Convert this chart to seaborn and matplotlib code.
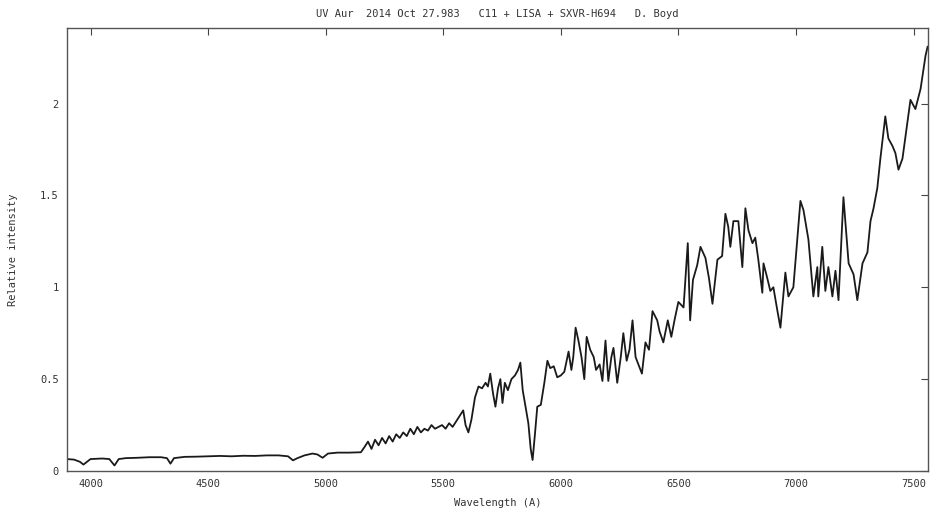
import matplotlib
matplotlib.use("Agg")
import matplotlib.pyplot as plt
import seaborn as sns
import pandas as pd

wavelength = [
    3900, 3930, 3955, 3970, 3985, 4000, 4050, 4080, 4102, 4120, 4150, 4200, 4250, 4300,
    4325, 4340, 4355, 4400, 4450, 4500, 4550, 4600, 4650, 4700, 4750, 4800, 4840, 4861,
    4880, 4910, 4944, 4965, 4987, 5010, 5050, 5100, 5150,
    5165, 5180, 5195, 5210, 5225, 5240, 5255, 5270, 5285, 5300, 5315, 5330, 5345, 5360,
    5375, 5390, 5405, 5420, 5435, 5450, 5465, 5480, 5495, 5510, 5525, 5540, 5555, 5570,
    5585, 5595, 5607, 5620, 5635, 5650, 5665, 5680, 5690, 5700, 5712, 5722, 5733, 5743,
    5752, 5762, 5775, 5790, 5805, 5818, 5828, 5838, 5850, 5862, 5872, 5880, 5890, 5900,
    5915, 5930, 5943, 5955, 5970, 5985, 6000, 6015, 6033, 6045, 6053, 6063, 6075, 6088,
    6100, 6110, 6125, 6140, 6150, 6165, 6177, 6190, 6202, 6215, 6224, 6240, 6255, 6266,
    6280, 6292, 6305, 6318, 6330, 6345, 6360, 6375, 6390, 6410, 6420, 6436, 6455, 6470,
    6485, 6500, 6522, 6540, 6550, 6562, 6580, 6594, 6615, 6630, 6645, 6666, 6686, 6700,
    6712, 6721, 6734, 6755, 6772, 6785, 6798, 6815, 6827, 6840, 6857, 6862, 6878, 6891,
    6904, 6920, 6934, 6955, 6968, 6989, 7019, 7032, 7053, 7074, 7091, 7095, 7112, 7125,
    7138, 7155, 7168, 7181, 7202, 7224, 7245, 7261, 7283, 7304, 7317, 7330, 7346, 7359,
    7380, 7393, 7410, 7423, 7436, 7453, 7474, 7487, 7508, 7530, 7551, 7560,
]
intensity = [
    0.065, 0.062, 0.050, 0.035, 0.050, 0.065, 0.068, 0.065, 0.030, 0.065, 0.070, 0.072, 0.075, 0.075,
    0.070, 0.040, 0.070, 0.077, 0.078, 0.080, 0.082, 0.080, 0.083, 0.082, 0.085, 0.085, 0.080, 0.058,
    0.070, 0.085, 0.095, 0.090, 0.072, 0.095, 0.100, 0.100, 0.102,
    0.13, 0.16, 0.12, 0.17, 0.14, 0.18, 0.15, 0.19, 0.16, 0.20, 0.18, 0.21, 0.19, 0.23,
    0.20, 0.24, 0.21, 0.23, 0.22, 0.25, 0.23, 0.24, 0.25, 0.23, 0.26, 0.24, 0.27, 0.30,
    0.33, 0.25, 0.21, 0.28, 0.40, 0.46, 0.45, 0.48, 0.46, 0.53, 0.42, 0.35, 0.45, 0.50,
    0.37, 0.48, 0.44, 0.50, 0.52, 0.55, 0.59, 0.44, 0.35, 0.26, 0.12, 0.06, 0.20, 0.35,
    0.36, 0.48, 0.60, 0.56, 0.57, 0.51, 0.52, 0.54, 0.65, 0.55, 0.62, 0.78, 0.71, 0.62,
    0.50, 0.73, 0.66, 0.62, 0.55, 0.58, 0.49, 0.71, 0.49, 0.62, 0.67, 0.48, 0.62, 0.75,
    0.60, 0.66, 0.82, 0.62, 0.58, 0.53, 0.70, 0.66, 0.87, 0.82, 0.76, 0.70, 0.82, 0.73,
    0.83, 0.92, 0.89, 1.24, 0.82, 1.04, 1.12, 1.22, 1.16, 1.05, 0.91, 1.15, 1.17, 1.40,
    1.33, 1.22, 1.36, 1.36, 1.11, 1.43, 1.31, 1.24, 1.27, 1.15, 0.97, 1.13, 1.05, 0.98,
    1.00, 0.88, 0.78, 1.08, 0.95, 1.00, 1.47, 1.42, 1.26, 0.95, 1.11, 0.95, 1.22, 0.98,
    1.11, 0.95, 1.09, 0.93, 1.49, 1.13, 1.07, 0.93, 1.13, 1.19, 1.36, 1.43, 1.54, 1.70,
    1.93, 1.81, 1.77, 1.73, 1.64, 1.70, 1.90, 2.02, 1.97, 2.08, 2.26, 2.31,
]
x_ticks = [4000, 4500, 5000, 5500, 6000, 6500, 7000, 7500]
y_ticks = [0, 0.5, 1, 1.5, 2]
y_tick_labels = ["0", "0.5", "1", "1.5", "2"]

title = "UV Aur  2014 Oct 27.983   C11 + LISA + SXVR-H694   D. Boyd"
x_label = "Wavelength (A)"
y_label = "Relative intensity"

sns.set_theme(style="white")
plt.rcParams["font.family"] = ["DejaVu Sans Mono", "DejaVu Sans"]

df = pd.DataFrame({"wavelength": wavelength, "intensity": intensity})

fig = plt.figure(figsize=(9.37, 5.22), dpi=100)
ax = fig.add_axes([0.0715, 0.0977, 0.9185, 0.8483])
sns.lineplot(data=df, x="wavelength", y="intensity", estimator=None, sort=True,
             color="#1a1a1a", linewidth=1.3, ax=ax)

ax.set_xlim(3900, 7560)
ax.set_ylim(0, 2.41)
ax.set_xticks(x_ticks)
ax.set_xticklabels([str(t) for t in x_ticks])
ax.set_yticks(y_ticks)
ax.set_yticklabels(y_tick_labels)
ax.tick_params(direction="in", length=5, width=0.8, color="#444444",
               top=True, right=True, labelsize=7.5, labelcolor="#333333", pad=6)
for s in ax.spines.values():
    s.set_color("#555555")
    s.set_linewidth(1.0)
ax.set_xlabel(x_label, fontsize=7.5, color="#333333", labelpad=6)
ax.set_ylabel(y_label, fontsize=7.5, color="#333333", labelpad=16)
ax.set_title(title, fontsize=7.5, color="#333333", pad=8)

fig.savefig("out.png", dpi=100)
